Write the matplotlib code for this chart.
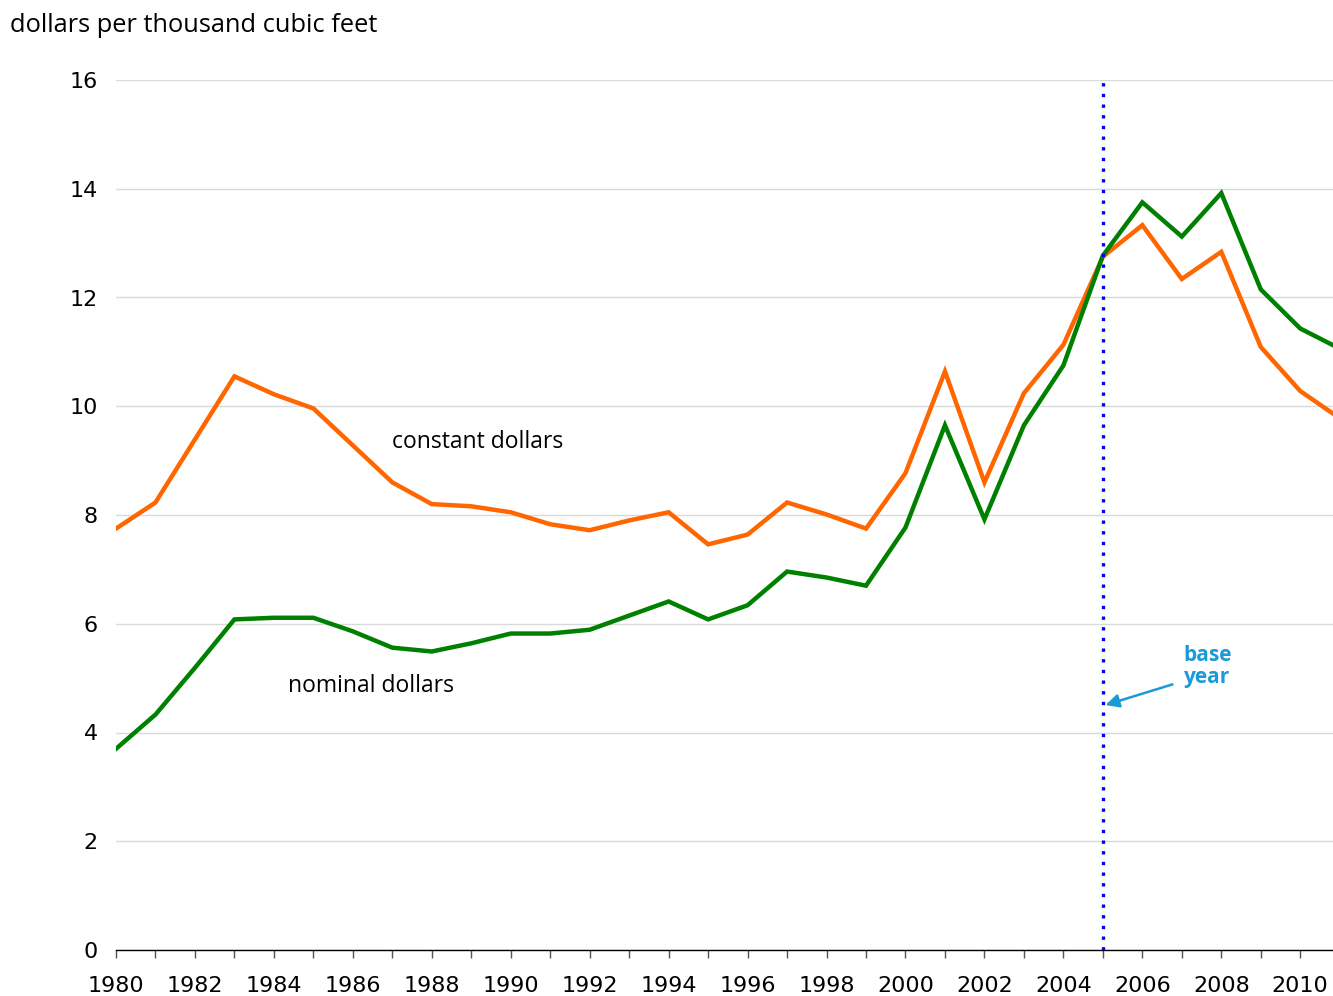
import numpy as np
import matplotlib
matplotlib.use("Agg")
import matplotlib.pyplot as plt

# === Data ===
years = list(range(1980, 2012))

constant_dollars = [7.75, 8.23, 9.39, 10.55, 10.22, 9.96, 9.28, 8.60, 8.20, 8.16,
                    8.05, 7.83, 7.72, 7.90, 8.05, 7.46, 7.64, 8.23, 8.01, 7.75,
                    8.77, 10.64, 8.60, 10.24, 11.13, 12.75, 13.33, 12.34, 12.84, 11.09,
                    10.28, 9.78]

nominal_dollars = [3.70, 4.33, 5.19, 6.08, 6.11, 6.11, 5.86, 5.56, 5.49, 5.64,
                   5.82, 5.82, 5.89, 6.15, 6.41, 6.08, 6.34, 6.96, 6.85, 6.70,
                   7.77, 9.65, 7.92, 9.65, 10.75, 12.77, 13.75, 13.12, 13.92, 12.15,
                   11.43, 11.06]

base_year = 2005
y_ticks = [0, 2, 4, 6, 8, 10, 12, 14, 16]
x_tick_labels = list(range(1980, 2011, 2))

# === Figure ===
fig = plt.figure(figsize=(13.33, 9.96), dpi=100)
ax = fig.add_axes([116 / 1333, 1 - 950 / 996, 1 - 116 / 1333, (950 - 80) / 996])

ax.plot(years, constant_dollars, color="#FF6600", linewidth=3.2, solid_joinstyle="miter", zorder=3)
ax.plot(years, nominal_dollars, color="#008000", linewidth=3.2, solid_joinstyle="miter", zorder=4)

ax.axvline(base_year, color="#0000FF", linewidth=2.4, linestyle=(0, (1, 2.2)), zorder=5)

ax.set_xlim(1980, 2010.83)
ax.set_ylim(0, 16)

ax.set_yticks(y_ticks)
ax.set_yticklabels([str(v) for v in y_ticks])
ax.set_xticks(years[:-1])
ax.set_xticklabels([str(y) if y in x_tick_labels else "" for y in years[:-1]])

ax.grid(axis="y", color="#D9D9D9", linewidth=1)
ax.set_axisbelow(True)
for side in ["left", "right", "top"]:
    ax.spines[side].set_visible(False)
ax.spines["bottom"].set_color("#000000")
ax.spines["bottom"].set_linewidth(1)

ax.tick_params(axis="y", length=0, pad=13, labelsize=16)
ax.tick_params(axis="x", direction="out", length=5.5, width=1, color="#555555", pad=13, labelsize=16)

ax.text(-0.087, 1.063, "dollars per thousand cubic feet", transform=ax.transAxes,
        fontsize=18.3, family="Open Sans", ha="left", va="center")

ax.text(1987.0, 9.34, "constant dollars", fontsize=16.5, family="Open Sans", ha="left", va="center")
ax.text(1984.35, 4.86, "nominal dollars", fontsize=16.5, family="Open Sans", ha="left", va="center")

ax.text(2007.65, 5.21, "base\nyear", fontsize=15, family="Open Sans", fontweight="bold",
        color="#1A9AD6", ha="center", va="center", linespacing=1.05)
ax.annotate("", xy=(base_year, 4.49), xytext=(2006.83, 4.9),
            arrowprops=dict(arrowstyle="-|>", color="#1A9AD6", lw=1.8, mutation_scale=20))

fig.savefig("out.png", dpi=100)
